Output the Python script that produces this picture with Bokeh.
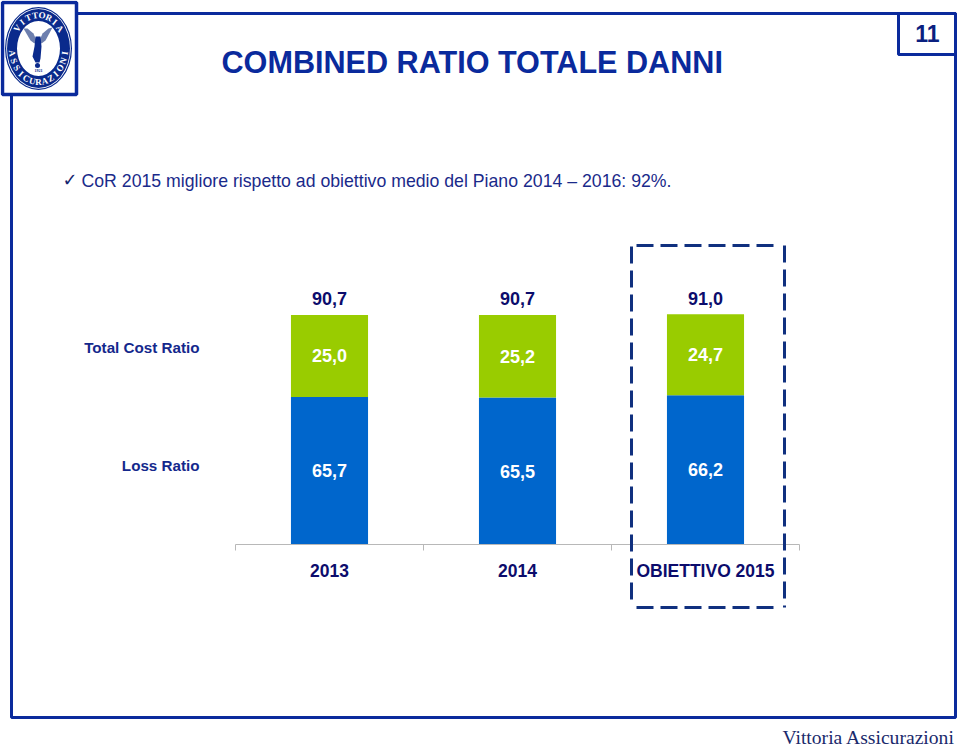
import math
from bokeh.plotting import figure
from bokeh.models import LinearAxis, FixedTicker, ColumnDataSource, Range1d
from bokeh.core.properties import value
from bokeh.embed import file_html
from bokeh.resources import INLINE

categories = ["2013", "2014", "OBIETTIVO 2015"]
loss_ratio = [65.7, 65.5, 66.2]
cost_ratio = [25.0, 25.2, 24.7]
loss_labels = ["65,7", "65,5", "66,2"]
cost_labels = ["25,0", "25,2", "24,7"]
total_labels = ["90,7", "90,7", "91,0"]
series_names = ["Loss Ratio", "Total Cost Ratio"]

W, H = 960, 749
FL, FR, FT, FB = 235, 799, 200, 544
AXIS_MIN = 20.7
PX_PER_UNIT = 3.28
NAVY = "#0a2a9c"
TXT = "#0c0c6c"
SANS = "Liberation Sans"
ABS = {"position": "absolute", "left": "0px", "top": "0px"}

# ---- chart figure
p = figure(width=W, height=H, output_backend="svg", toolbar_location=None,
           x_range=Range1d(0, 3), y_range=Range1d(AXIS_MIN, AXIS_MIN + (FB - FT) / PX_PER_UNIT),
           min_border_left=FL, min_border_right=W - FR, min_border_top=FT, min_border_bottom=H - FB,
           x_axis_location=None, y_axis_location=None, styles=ABS)
p.outline_line_color = None
p.grid.visible = False

xs = [i + 0.5 for i in range(len(categories))]
tops = [a + b for a, b in zip(loss_ratio, cost_ratio)]
src = ColumnDataSource(dict(
    x=xs, loss=loss_ratio, cost=cost_ratio, top=tops, zero=[0] * 3,
    loss_mid=[(AXIS_MIN + v) / 2 for v in loss_ratio],
    cost_mid=[v + c / 2 for v, c in zip(loss_ratio, cost_ratio)],
    ll=loss_labels, cl=cost_labels, tl=total_labels))
p.vbar(x="x", bottom="zero", top="loss", width=0.41, fill_color="#0066cc", line_color=None, source=src)
p.vbar(x="x", bottom="loss", top="top", width=0.41, fill_color="#99cc00", line_color=None, source=src)

for col, yc, off, colr in (("ll", "loss_mid", 0, "white"), ("cl", "cost_mid", 0, "white"), ("tl", "top", -16, TXT)):
    p.text(x="x", y=yc, text=col, source=src, text_align="center", text_baseline="middle",
           text_font=value(SANS), text_font_size="18px", text_font_style="bold",
           text_color=colr, y_offset=off)

ax = LinearAxis(ticker=FixedTicker(ticks=xs, minor_ticks=[0, 1, 2, 3]),
                major_label_overrides={x: c for x, c in zip(xs, categories)})
ax.axis_line_color = "#b8b8b8"
ax.major_tick_line_color = None
ax.minor_tick_line_color = "#b8b8b8"
ax.minor_tick_in = 0
ax.minor_tick_out = 6
ax.major_label_standoff = 10
ax.major_label_text_font = SANS
ax.major_label_text_font_size = "17.5px"
ax.major_label_text_font_style = "bold"
ax.major_label_text_color = TXT
p.add_layout(ax, "below")

# ---- decoration figure laid over the chart, one data unit = one page pixel
d = figure(width=W, height=H, output_backend="svg", toolbar_location=None,
           x_range=Range1d(0, W), y_range=Range1d(H, 0), min_border=0,
           x_axis_location=None, y_axis_location=None, styles=ABS)
d.outline_line_color = None
d.grid.visible = False
d.background_fill_color = None
d.border_fill_color = None


def box(l, t, r, b, line=NAVY, lw=3, fill=None):
    d.quad(left=l, right=r, top=t, bottom=b, line_color=line, line_width=lw,
           fill_color=fill, fill_alpha=1 if fill else 0)


def label(x, y, s, size, color=TXT, font=SANS, style="normal", align="left", angle=0):
    d.text(x=[x], y=[y], text=[s], text_font=value(font), text_font_size=f"{size}px",
           text_font_style=style, text_color=color, text_align=align, text_baseline="middle",
           angle=angle)


def poly(pts, fill):
    d.patch([a for a, _ in pts], [b for _, b in pts], fill_color=fill, line_color=None)


def ell(cx, cy, rx, ry, fill):
    d.ellipse(x=[cx], y=[cy], width=[2 * rx], height=[2 * ry], fill_color=fill, line_color=None)


box(11, 13, 955, 717)
box(898, 13, 955, 54, fill="white")
label(927, 33, "11", 23, color="#0a2080", style="bold", align="center")

box(2, 2, 76, 94, fill="white", lw=3.5)
LOGO = "#0a2a8c"
ell(38, 48, 33.5, 41.5, LOGO)
ell(38, 48, 32.3, 40.3, "white")
ell(38, 48, 31.5, 39.5, LOGO)
ell(38, 48, 21.5, 27.5, "white")
for word, a0, a1 in (("VITTORIA", -2.5, -0.64), ("ASSICURAZIONI", 3.0, 0.14)):
    n = len(word)
    for i, ch in enumerate(word):
        a = a0 + (a1 - a0) * i / (n - 1)
        cx, cy = 38 + 26.5 * math.cos(a), 48 + 33.5 * math.sin(a)
        tang = a + math.pi / 2 if a < 0 else a - math.pi / 2
        label(cx, cy, ch, 9, color="white", font="Liberation Serif", style="bold", align="center", angle=-tang)
# angel
poly([(23, 28), (27, 28), (33, 33), (36, 40), (34, 43), (30, 40)], "#6d7fae")
poly([(52, 27), (48, 28), (42, 33), (39, 40), (41, 43), (45, 40)], "#6d7fae")
poly([(35, 36), (40, 36), (41, 46), (40, 58), (39, 62), (35, 62), (32, 56), (34, 46)], LOGO)
ell(37, 65, 2.5, 2.5, LOGO)
label(38, 70, "1921", 4, color=LOGO, font="Liberation Serif", style="bold", align="center")

label(221, 61.5, "COMBINED RATIO TOTALE DANNI", 30.6, color="#0a2a9c", style="bold")
label(62, 179, "\u2713", 18, color="#14246e", font="DejaVu Sans")
label(81, 180, "CoR 2015 migliore rispetto ad obiettivo medio del Piano 2014 \u2013 2016: 92%.", 17.7, color="#1a2a8a")

label(199, 346.5, series_names[1], 15.2, color="#14288c", style="bold", align="right")
label(199, 464.5, series_names[0], 15.2, color="#14288c", style="bold", align="right")

# dashed target frame, four separate dashed strokes that do not meet at the corners
DASH = "#10307f"
for lx, ly in (([636, 780], [245, 245]), ([636, 780], [607, 607]), ([631, 631], [246, 606]), ([784, 784], [245, 607])):
    d.line(lx, ly, line_color=DASH, line_width=3, line_dash="17 7")

label(782, 737, "Vittoria Assicurazioni", 19.6, color="#1a2a6c", font="Liberation Serif")

open("out.html", "w").write(file_html([p, d], INLINE))
